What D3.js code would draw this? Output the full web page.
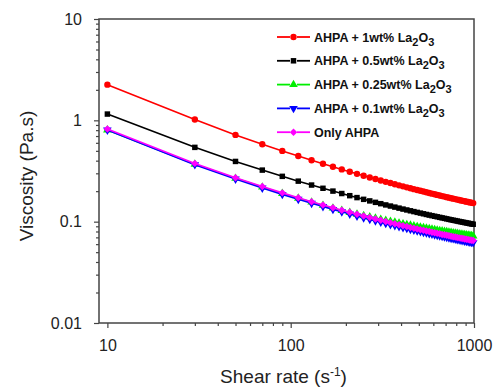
<!DOCTYPE html>
<html>
<head>
<meta charset="utf-8">
<script src="https://cdn.jsdelivr.net/npm/d3@7"></script>
<style>
  body { margin: 0; background: #fff; }
  svg { display: block; font-family: "Liberation Sans", Arial, sans-serif; }
</style>
</head>
<body>
<div id="chart"></div>
<script>
// shear rate (1/s) for every measured point
const shearRate = [10,30,50,70,90,110,130,150,170,190,210,230,250,270,290,310,330,350,370,390,
  410,430,450,470,490,510,530,550,570,590,610,630,650,670,690,710,730,750,770,790,
  810,830,850,870,890,910,930,950,970,990]

// viscosity (Pa.s)
const visc1wt = [2.25,1.02,0.718,0.581,0.499,0.444,0.4035,0.3725,0.3478,0.3277,0.3109,0.2965,0.2841,0.2732,0.2636,0.2551,0.2473,0.2404,0.2341,0.2283,
  0.2230,0.2181,0.2136,0.2094,0.2055,0.2017,0.1982,0.1950,0.1919,0.1890,0.1863,0.1837,0.1813,0.1789,0.1767,0.1746,0.1726,0.1706,0.1688,0.1670,
  0.1652,0.1636,0.1620,0.1605,0.1590,0.1575,0.1562,0.1549,0.1536,0.1524]
const visc05wt = [1.153,0.541,0.393,0.3227,0.2801,0.2511,0.2298,0.2135,0.2003,0.1895,0.1805,0.1728,0.1661,0.1603,0.1551,0.1505,0.1463,0.1426,0.1392,0.1360,
  0.1331,0.1305,0.1280,0.1257,0.1235,0.1215,0.1196,0.1178,0.1161,0.1146,0.1131,0.1117,0.1103,0.1090,0.1078,0.1066,0.1054,0.1043,0.1033,0.1024,
  0.1014,0.1005,0.0996,0.0988,0.0980,0.0972,0.0965,0.0957,0.0950,0.0943]
const visc025wt = [0.802,0.3695,0.2676,0.2192,0.1901,0.1703,0.1559,0.1448,0.1360,0.1287,0.1230,0.1185,0.1146,0.1112,0.1081,0.1054,0.1029,0.1007,0.0987,0.0968,
  0.0951,0.0935,0.0921,0.0907,0.0894,0.0882,0.0871,0.0861,0.0851,0.0841,0.0832,0.0824,0.0816,0.0808,0.0801,0.0794,0.0787,0.0781,0.0775,0.0769,
  0.0763,0.0758,0.0752,0.0748,0.0743,0.0738,0.0734,0.0729,0.0725,0.0721]
const visc01wt = [0.802,0.3655,0.2633,0.2150,0.1859,0.1663,0.1519,0.1409,0.1322,0.1250,0.1190,0.1138,0.1094,0.1055,0.1021,0.0990,0.0962,0.0938,0.0915,0.0894,
  0.0876,0.0858,0.0841,0.0826,0.0812,0.0799,0.0787,0.0775,0.0764,0.0753,0.0744,0.0734,0.0726,0.0717,0.0709,0.0701,0.0694,0.0687,0.0681,0.0674,
  0.0668,0.0662,0.0656,0.0651,0.0645,0.0640,0.0635,0.0631,0.0626,0.0621]
const viscOnly = [0.820,0.376,0.2716,0.2221,0.1924,0.1722,0.1575,0.1462,0.1372,0.1298,0.1236,0.1183,0.1138,0.1098,0.1062,0.1031,0.1002,0.0977,0.0954,0.0932,
  0.0912,0.0894,0.0877,0.0862,0.0847,0.0834,0.0821,0.0809,0.0798,0.0787,0.0777,0.0767,0.0758,0.0749,0.0741,0.0733,0.0726,0.0718,0.0711,0.0705,
  0.0698,0.0692,0.0686,0.0681,0.0675,0.0670,0.0665,0.0660,0.0655,0.0651]

const seriesNames = ["AHPA + 1wt% La", "AHPA + 0.5wt% La", "AHPA + 0.25wt% La", "AHPA + 0.1wt% La", "Only AHPA"]
const seriesValues = [visc1wt, visc05wt, visc025wt, visc01wt, viscOnly]
const seriesColors = ["#ff0000", "#000000", "#00ee00", "#0000ff", "#ff00ff"]

const xMajor = [10, 100, 1000]
const xMinor = [20,30,40,50,60,70,80,90,200,300,400,500,600,700,800,900]
const yMajor = [0.01, 0.1, 1, 10]
const yMinor = [0.02,0.03,0.04,0.05,0.06,0.07,0.08,0.09,0.2,0.3,0.4,0.5,0.6,0.7,0.8,0.9,2,3,4,5,6,7,8,9]

const width = 497, height = 388
const margin = {left: 99, right: 23, top: 19, bottom: 65}

const svg = d3.select("#chart").append("svg")
  .attr("width", width)
  .attr("height", height)

const x = d3.scaleLog().domain([9, 1000]).range([margin.left, width - margin.right])
const y = d3.scaleLog().domain([0.01, 10]).range([height - margin.bottom, margin.top])

const axisColor = "#444"
const textColor = "#222"

// minor ticks first, then majors with labels
function styleAxis(g) {
  g.select(".domain").remove()
  g.selectAll(".tick line").attr("stroke", axisColor).attr("stroke-width", 1.2)
  g.selectAll(".tick text").attr("fill", textColor).style("font-size", "16px")
}
svg.append("g")
  .attr("transform", `translate(0,${y.range()[0]})`)
  .call(d3.axisBottom(x).tickValues(xMinor).tickSize(3).tickFormat(""))
  .call(styleAxis)
svg.append("g")
  .attr("transform", `translate(0,${y.range()[0]})`)
  .call(d3.axisBottom(x).tickValues(xMajor).tickSize(5).tickPadding(12).tickFormat(d3.format("d")))
  .call(styleAxis)
svg.append("g")
  .attr("transform", `translate(${x.range()[0]},0)`)
  .call(d3.axisLeft(y).tickValues(yMinor).tickSize(3).tickFormat(""))
  .call(styleAxis)
svg.append("g")
  .attr("transform", `translate(${x.range()[0]},0)`)
  .call(d3.axisLeft(y).tickValues(yMajor).tickSize(5).tickPadding(12).tickFormat(d => String(d)))
  .call(styleAxis)

// frame
svg.append("rect")
  .attr("x", x.range()[0])
  .attr("y", y.range()[1])
  .attr("width", x.range()[1] - x.range()[0])
  .attr("height", y.range()[0] - y.range()[1])
  .attr("fill", "none")
  .attr("stroke", axisColor)
  .attr("stroke-width", 1.5)

// axis titles
svg.append("text")
  .attr("x", (x.range()[0] + x.range()[1]) / 2 - 3)
  .attr("y", 383)
  .attr("text-anchor", "middle")
  .attr("fill", textColor)
  .style("font-size", "19px")
  .html('Shear rate (s<tspan dy="-7" font-size="12px">-1</tspan><tspan dy="7">)</tspan>')

svg.append("text")
  .attr("transform", `translate(33,176) rotate(-90)`)
  .attr("text-anchor", "middle")
  .attr("fill", textColor)
  .style("font-size", "19px")
  .text("Viscosity (Pa.s)")

// one marker shape per series
function markerPath(i) {
  const shapes = [
    d3.symbol(d3.symbolCircle, 32)(),
    d3.symbol(d3.symbolSquare, 30)(),
    d3.symbol(d3.symbolTriangle, 32)(),
    d3.symbol(d3.symbolTriangle, 32)(),
    d3.symbol(d3.symbolSquare, 28)()
  ]
  return shapes[i]
}
function markerRotate(i) {
  if (i === 3) return " rotate(180)"
  if (i === 4) return " rotate(45)"
  return ""
}

const line = d3.line()
  .x((d, j) => x(shearRate[j]))
  .y(d => y(d))

seriesValues.forEach((vals, i) => {
  const g = svg.append("g")
  g.append("path")
    .datum(vals)
    .attr("d", line)
    .attr("fill", "none")
    .attr("stroke", seriesColors[i])
    .attr("stroke-width", 1.6)
  g.selectAll("path.m")
    .data(vals)
    .join("path")
      .attr("class", "m")
      .attr("d", markerPath(i))
      .attr("transform", (d, j) => `translate(${x(shearRate[j])},${y(d)})${markerRotate(i)}`)
      .attr("fill", seriesColors[i])
})

// legend: line broken around the marker
const legend = svg.append("g").attr("transform", "translate(277,37)")
seriesNames.forEach((name, i) => {
  const row = legend.append("g").attr("transform", `translate(0,${i * 23.8})`)
  row.append("line")
    .attr("x1", 0).attr("x2", 13)
    .attr("stroke", seriesColors[i])
    .attr("stroke-width", 1.8)
  row.append("line")
    .attr("x1", 20).attr("x2", 33)
    .attr("stroke", seriesColors[i])
    .attr("stroke-width", 1.8)
  row.append("path")
    .attr("d", markerPath(i))
    .attr("transform", `translate(16.5,0)${markerRotate(i)}`)
    .attr("fill", seriesColors[i])
  const t = row.append("text")
    .attr("x", 37)
    .attr("y", 4.5)
    .attr("fill", "#111")
    .style("font-size", "12.5px")
    .style("font-weight", "bold")
  t.append("tspan").text(name)
  if (i < 4) {
    t.append("tspan").attr("dy", 4).style("font-size", "11px").text("2")
    t.append("tspan").attr("dy", -4).text("O")
    t.append("tspan").attr("dy", 4).style("font-size", "11px").text("3")
  }
})
</script>
</body>
</html>
